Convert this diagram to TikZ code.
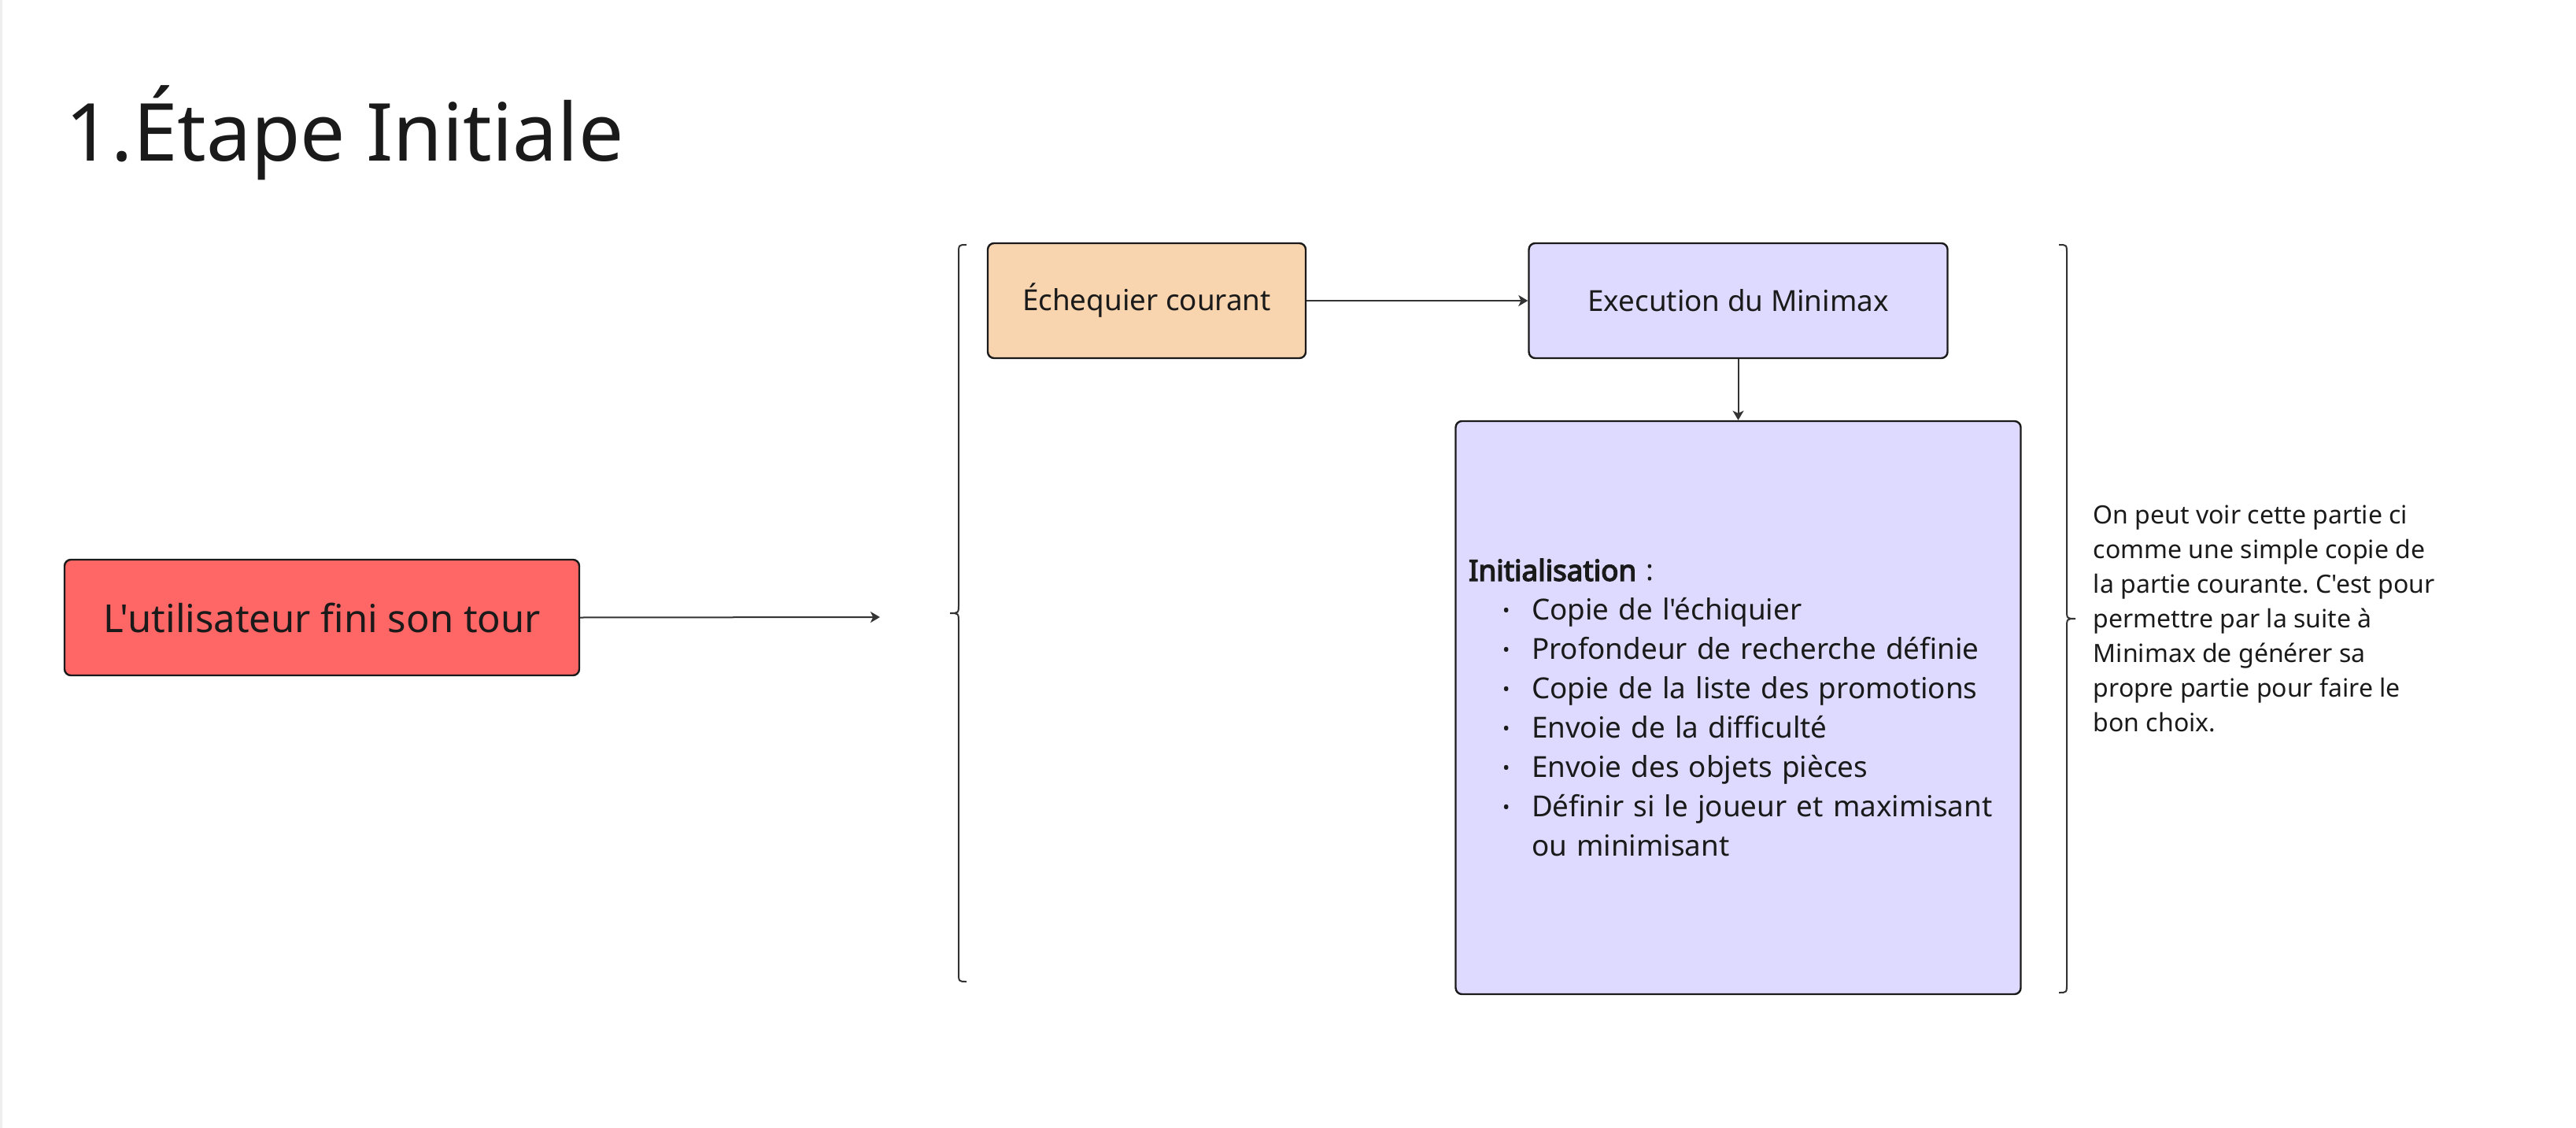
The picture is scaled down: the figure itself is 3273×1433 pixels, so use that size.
\documentclass[tikz,border=0pt]{standalone}
\usepackage{fontspec}
\usetikzlibrary{arrows.meta}
\newfontfamily\nsans{Noto Sans}[AutoFakeBold=4]
\definecolor{txt}{HTML}{1A1A1A}
\definecolor{line}{HTML}{333333}
\definecolor{redfill}{HTML}{FF6666}
\definecolor{orangefill}{HTML}{F8D4AF}
\definecolor{lavfill}{HTML}{DEDAFF}
\definecolor{edgegrey}{HTML}{EEEEEE}
\newcommand\bitem{\hspace*{10.8pt}\makebox[9.2pt][l]{\raisebox{0.9pt}{\fontsize{6.2pt}{7pt}\selectfont •}}}
\frenchspacing
\tikzset{
  boxstyle/.style={draw=txt, line width=0.6pt, rounded corners=2pt, inner sep=0pt, text=txt, align=center},
  conn/.style={draw=line, line width=0.5pt, -{Stealth[length=3pt,width=3.5pt,inset=0.8pt]}},
  bracestyle/.style={draw=line, line width=0.5pt}
}
\begin{document}
\begin{tikzpicture}[x=0.25pt,y=-0.25pt,font=\nsans]
\useasboundingbox (0,0) rectangle (3273,1433);
\fill[edgegrey] (0,0) rectangle (3,1433);

\node[anchor=base west, inner sep=0pt, text=txt, font=\nsans\fontsize{25.4pt}{30pt}\selectfont] (title) at (83,205) {1.Étape Initiale};

\node[boxstyle, fill=redfill, minimum width=163.5pt, minimum height=36.75pt, font=\nsans\fontsize{12.25pt}{15pt}\selectfont] (user) at (409,784.5) {L'utilisateur fini son tour};

\node[boxstyle, fill=orangefill, minimum width=101pt, minimum height=36.5pt, font=\nsans\fontsize{9.2pt}{12pt}\selectfont] (ech) at (1457,382) {Échequier courant};

\node[boxstyle, fill=lavfill, minimum width=133pt, minimum height=36.5pt, font=\nsans\fontsize{9.2pt}{12pt}\selectfont] (exec) at (2208.5,382) {Execution du Minimax};

\node[boxstyle, fill=lavfill, minimum width=179.5pt, minimum height=182pt, text width=171.25pt, align=left, font=\nsans\fontsize{9.2pt}{12.5pt}\selectfont] (init) at (2208.5,899) {\textbf{Initialisation} :\\
\bitem Copie de l'échiquier\\
\bitem Profondeur de recherche définie\\
\bitem Copie de la liste des promotions\\
\bitem Envoie de la difficulté\\
\bitem Envoie des objets pièces\\
\bitem Définir si le joueur et maximisant\\
\hspace*{20pt}ou minimisant};

\node[anchor=west, inner sep=0pt, align=left, text=txt, font=\nsans\fontsize{8pt}{11pt}\selectfont] (note) at (2659,786) {On peut voir cette partie ci\\
comme une simple copie de\\
la partie courante. C'est pour\\
permettre par la suite à\\
Minimax de générer sa\\
propre partie pour faire le\\
bon choix.};

\coordinate (bracein) at (1118,784);

\draw[conn] (user.east) -- (bracein);
\draw[conn] (ech.east) -- (exec.west);
\draw[conn] (exec.south) -- (init.north);

% left brace
\draw[bracestyle] (1228,311) .. controls (1218,311) .. (1218,323) -- (1218,767)
  .. controls (1218,779) .. (1207,779) .. controls (1218,779) .. (1218,791)
  -- (1218,1235) .. controls (1218,1247) .. (1228,1247);
% right brace
\draw[bracestyle] (2616,311) .. controls (2626,311) .. (2626,323) -- (2626,774)
  .. controls (2626,786) .. (2637,786) .. controls (2626,786) .. (2626,798)
  -- (2626,1249) .. controls (2626,1261) .. (2616,1261);
\end{tikzpicture}
\end{document}
